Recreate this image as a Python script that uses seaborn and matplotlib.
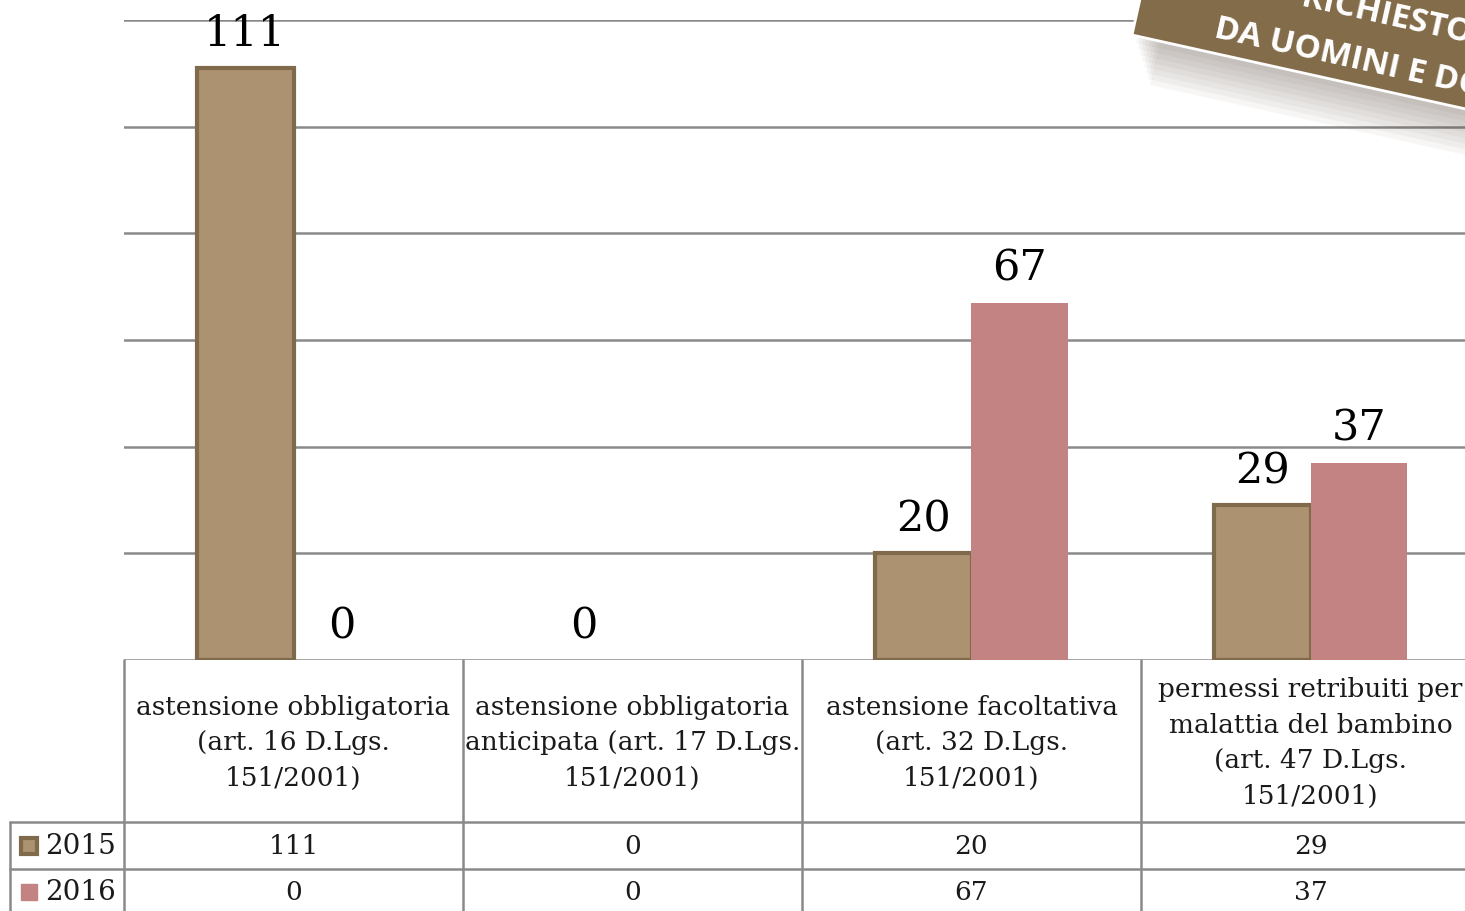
import pandas as pd
import matplotlib.pyplot as plt
import seaborn as sns
from matplotlib.patches import Rectangle
from matplotlib.transforms import IdentityTransform

# dati
categorie = ["astensione obbligatoria\n(art. 16 D.Lgs.\n151/2001)",
             "astensione obbligatoria\nanticipata (art. 17 D.Lgs.\n151/2001)",
             "astensione facoltativa\n(art. 32 D.Lgs.\n151/2001)",
             "permessi retribuiti per\nmalattia del bambino\n(art. 47 D.Lgs.\n151/2001)"]
anni = ["2015", "2016"]
valori_2015 = [111, 0, 20, 29]
valori_2016 = [0, 0, 67, 37]
etichette_2015 = ["111", "0", "20", "29"]
etichette_2016 = ["0", "", "67", "37"]   # la seconda etichetta non compare
colori = {"2015": "#AC9270", "2016": "#C48383"}
bordo_2015 = "#7F6B4B"

sns.set_theme(style="white")
plt.rcParams['font.family'] = ['DejaVu Serif', 'DejaVu Sans']

df = pd.DataFrame({
    "categoria": list(range(len(categorie))) * 2,
    "anno": [anni[0]] * len(categorie) + [anni[1]] * len(categorie),
    "valore": valori_2015 + valori_2016,
})

fig = plt.figure(figsize=(14.65, 9.12), dpi=100)
ax = fig.add_axes([124 / 1465, 1 - 661 / 912, (1480 - 124) / 1465, 640 / 912])

sns.barplot(data=df, x="categoria", y="valore", hue="anno", palette=colori,
            hue_order=anni, width=0.572, gap=0, ax=ax, legend=False,
            saturation=1, zorder=3)

for p in ax.containers[0]:
    p.set_edgecolor(bordo_2015)
    p.set_linewidth(3 if p.get_height() > 0 else 0)
for p in ax.containers[1]:
    p.set_edgecolor("none")

for cont, lab in zip(ax.containers, [etichette_2015, etichette_2016]):
    ax.bar_label(cont, labels=lab, padding=10, fontsize=31, color="black", clip_on=False)

ax.set_xlim(-0.5, 3.5)
ax.set_ylim(0, 120)
ax.set_yticks(range(0, 121, 20))
ax.yaxis.grid(True, color="#8A8A8A", lw=1.8, zorder=0)
ax.xaxis.grid(False)
ax.set_axisbelow(True)
ax.tick_params(left=False, bottom=False, labelleft=False, labelbottom=False)
for s in ax.spines.values():
    s.set_visible(False)
ax.set_xlabel("")
ax.set_ylabel("")

# tabella dati sotto il grafico
tr = ax.get_xaxis_transform()
lc = dict(color="#8A8A8A", lw=1.8, transform=tr, clip_on=False)
x_sx = -0.836
y_r1, y_r2, y_fondo = -0.2531, -0.3266, -0.45
for x in [-0.5, 0.5, 1.5, 2.5, 3.5]:
    ax.plot([x, x], [0, y_fondo], **lc)
ax.plot([x_sx, x_sx], [y_r1, y_fondo], **lc)
for y in [y_r1, y_r2]:
    ax.plot([x_sx, 3.5], [y, y], **lc)

fs = 19
for i, c in enumerate(categorie):
    ax.text(i, -0.128, c, transform=tr, ha="center", va="center",
            fontsize=fs, linespacing=1.52, color="#1a1a1a")
    ax.text(i, -0.2906, str(valori_2015[i]), transform=tr, ha="center",
            va="center", fontsize=fs, color="#1a1a1a")
    ax.text(i, -0.3625, str(valori_2016[i]), transform=tr, ha="center",
            va="center", fontsize=fs, color="#1a1a1a")

for anno, y in zip(anni, [-0.2906, -0.3625]):
    kw = dict(mec=bordo_2015, mew=3) if anno == "2015" else dict(mec=colori[anno])
    ax.plot([-0.779], [y], marker="s", ms=12, color=colori[anno], transform=tr,
            clip_on=False, **kw)
    ax.text(-0.733, y, anno, transform=tr, ha="left", va="center", fontsize=fs + 1,
            color="#1a1a1a")

# fascia in alto a destra con ombra sfumata
for k in range(8):
    fig.patches.append(Rectangle((1132 + 4 + 2 * k, 912 - 38 - 6 - 6 * k), 600, 170,
                                 angle=-12.5, transform=IdentityTransform(),
                                 color="#4a3a2a", alpha=0.045, lw=0, zorder=1))
fig.patches.append(Rectangle((1132, 912 - 36), 600, 170, angle=-12.5,
                             transform=IdentityTransform(), facecolor="#836C4A",
                             edgecolor="white", lw=2, zorder=2))
fig.text(1213, 912 - 37, "DA UOMINI E DONNE", transform=IdentityTransform(),
         rotation=-12.5, rotation_mode="anchor", ha="left", va="baseline",
         fontsize=24, color="white", fontweight="bold", family="Open Sans", zorder=3)
fig.text(1300, 912 - 6, "RICHIESTO", transform=IdentityTransform(),
         rotation=-12.5, rotation_mode="anchor", ha="left", va="baseline",
         fontsize=24, color="white", fontweight="bold", family="Open Sans", zorder=3)

fig.savefig("out.png", dpi=100)
